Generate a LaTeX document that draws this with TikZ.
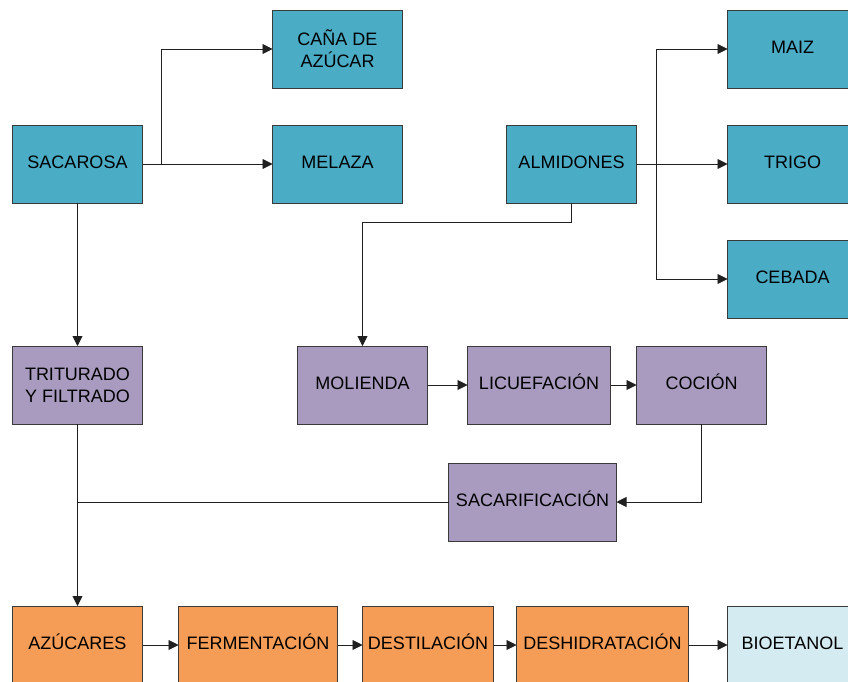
\documentclass[tikz,border=0pt]{standalone}
\usepackage{fontspec}
\setmainfont{Liberation Sans}
\usetikzlibrary{positioning,arrows.meta,calc}
\definecolor{materia}{HTML}{4BACC6}
\definecolor{proceso}{HTML}{A99BBF}
\definecolor{etapa}{HTML}{F59D56}
\definecolor{producto}{HTML}{D3EBF1}
\definecolor{borde}{HTML}{3A3A3A}
\definecolor{linea}{HTML}{202020}

\begin{document}
\begin{tikzpicture}[align=center, font=\fontsize{18}{22}\selectfont,
    caja/.style={draw=borde, line width=0.9pt, minimum width=130pt, minimum height=78pt, inner sep=2pt, outer sep=0pt},
    una/.style={caja, text height=13pt, text depth=4pt},
    flujo/.style={draw=linea, line width=0.9pt, -{Triangle[length=10pt,width=10pt]}},
    union/.style={draw=linea, line width=0.9pt}]
    \useasboundingbox (0,0) rectangle (848pt,-682pt);

    % materias primas
    \node [una, fill=materia] (sacarosa) at (77.5pt,-164pt) {SACAROSA};
    \node [una, fill=materia, right=130pt of sacarosa] (melaza) {MELAZA};
    \node [caja, fill=materia, above=37pt of melaza] (cana) {CAÑA DE\\AZÚCAR};
    \node [una, fill=materia, right=104pt of melaza] (almidones) {ALMIDONES};
    \node [una, fill=materia, right=91pt of almidones] (trigo) {TRIGO};
    \node [una, fill=materia, above=37pt of trigo] (maiz) {MAIZ};
    \node [una, fill=materia, below=37pt of trigo] (cebada) {CEBADA};

    % pretratamiento
    \node [caja, fill=proceso, below=143pt of sacarosa] (triturado) {TRITURADO\\Y FILTRADO};
    \node [una, fill=proceso, right=155pt of triturado] (molienda) {MOLIENDA};
    \node [una, fill=proceso, right=40pt of molienda, minimum width=143pt] (licuefaccion) {LICUEFACIÓN};
    \node [una, fill=proceso, right=26pt of licuefaccion] (coccion) {COCIÓN};
    \node [una, fill=proceso, below=39pt of licuefaccion, xshift=-6.5pt, minimum width=168pt] (sacarificacion) {SACARIFICACIÓN};

    % obtencion del etanol
    \node [una, fill=etapa, below=182pt of triturado] (azucares) {AZÚCARES};
    \node [una, fill=etapa, right=36pt of azucares, minimum width=159pt] (fermentacion) {FERMENTACIÓN};
    \node [una, fill=etapa, right=25pt of fermentacion, minimum width=131pt] (destilacion) {DESTILACIÓN};
    \node [una, fill=etapa, right=23pt of destilacion, minimum width=172pt] (deshidratacion) {DESHIDRATACIÓN};
    \node [una, fill=producto, right=39pt of deshidratacion] (bioetanol) {BIOETANOL};

    \draw[flujo] (sacarosa) -- (melaza);
    \draw[flujo] (sacarosa.east) -- ++(19pt,0) |- (cana);
    \draw[flujo] (almidones) -- (trigo);
    \draw[flujo] (almidones.east) -- ++(20pt,0) |- (maiz);
    \draw[flujo] (almidones.east) -- ++(20pt,0) |- (cebada);
    \draw[flujo] (almidones.south) -- ++(0,-19pt) -| (molienda.north);
    \draw[flujo] (sacarosa) -- (triturado);
    \draw[flujo] (triturado) -- (azucares);
    \draw[flujo] (molienda) -- (licuefaccion);
    \draw[flujo] (licuefaccion) -- (coccion);
    \draw[flujo] (coccion.south) |- (sacarificacion.east);
    \draw[union] (sacarificacion.west) -- (sacarificacion.west -| azucares.north);
    \draw[flujo] (azucares) -- (fermentacion);
    \draw[flujo] (fermentacion) -- (destilacion);
    \draw[flujo] (destilacion) -- (deshidratacion);
    \draw[flujo] (deshidratacion) -- (bioetanol);

\end{tikzpicture}
\end{document}
